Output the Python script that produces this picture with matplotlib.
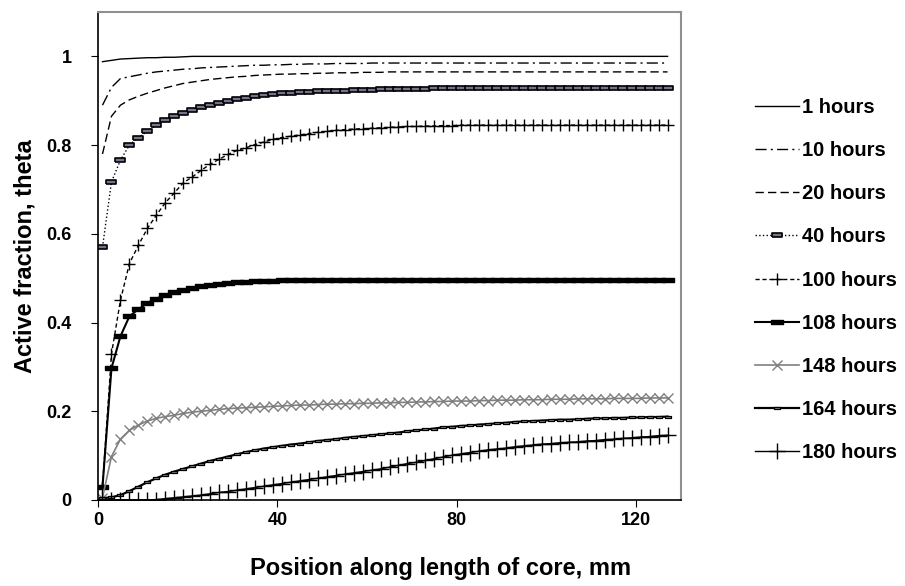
import matplotlib
matplotlib.use("Agg")
from matplotlib import pyplot as plt
from matplotlib.path import Path

plt.rcParams['font.family'] = ['Liberation Sans', 'DejaVu Sans']
plt.rcParams['font.weight'] = 'bold'

# position along core (mm)
pos = list(range(1, 128, 2))

h1 = [0.988, 0.991, 0.994, 0.995, 0.996, 0.997, 0.997, 0.998,
      0.998, 0.999] + [1.0] * 54
h10 = [0.890, 0.930, 0.950, 0.954, 0.958, 0.962, 0.965, 0.967,
       0.969, 0.971, 0.972, 0.974, 0.975, 0.976, 0.977, 0.978,
       0.979, 0.980, 0.980, 0.981, 0.981, 0.982, 0.982, 0.983,
       0.983, 0.983, 0.984, 0.984, 0.984, 0.984, 0.985, 0.985] + [0.985] * 32
h20 = [0.780, 0.865, 0.890, 0.902, 0.910, 0.917, 0.923, 0.929,
       0.934, 0.939, 0.942, 0.945, 0.948, 0.950, 0.952, 0.954,
       0.955, 0.957, 0.958, 0.959, 0.960, 0.960, 0.961, 0.961,
       0.962, 0.962, 0.963, 0.963, 0.963, 0.964, 0.964, 0.964] + [0.965] * 32
h40 = [0.570, 0.717, 0.766, 0.800, 0.817, 0.831, 0.845, 0.856,
       0.865, 0.872, 0.880, 0.886, 0.891, 0.896, 0.900, 0.904,
       0.907, 0.910, 0.913, 0.915, 0.917, 0.918, 0.919, 0.920,
       0.921, 0.922, 0.923, 0.923, 0.924, 0.925, 0.925, 0.926,
       0.926, 0.926, 0.927, 0.927, 0.927] + [0.928] * 27
h100 = [0.030, 0.329, 0.450, 0.533, 0.574, 0.612, 0.642, 0.670,
        0.692, 0.715, 0.728, 0.743, 0.757, 0.768, 0.779, 0.788,
        0.794, 0.801, 0.807, 0.813, 0.817, 0.820, 0.823, 0.826,
        0.829, 0.831, 0.833, 0.835, 0.836, 0.837, 0.838, 0.839,
        0.840, 0.841, 0.842, 0.842, 0.843, 0.843, 0.844, 0.844] + [0.845] * 24
h108 = [0.030, 0.297, 0.369, 0.414, 0.430, 0.444, 0.454, 0.462,
        0.469, 0.474, 0.478, 0.482, 0.485, 0.487, 0.489, 0.491,
        0.492, 0.493, 0.494, 0.494] + [0.495] * 44
h148 = [0.005, 0.098, 0.137, 0.157, 0.169, 0.178, 0.184, 0.188,
        0.191, 0.195, 0.198, 0.200, 0.202, 0.204, 0.206, 0.207,
        0.208, 0.209, 0.210, 0.211, 0.212, 0.213, 0.214, 0.214,
        0.215, 0.216, 0.216, 0.217, 0.217, 0.218, 0.218, 0.219,
        0.219, 0.220, 0.220, 0.221, 0.221, 0.222, 0.222, 0.223,
        0.223, 0.223, 0.224, 0.224, 0.225, 0.225, 0.225, 0.226,
        0.226, 0.226, 0.227, 0.227, 0.227, 0.228, 0.228, 0.228,
        0.228, 0.229, 0.229, 0.229, 0.229, 0.230, 0.230, 0.230]
h164 = [0.004, 0.006, 0.011, 0.020, 0.030, 0.040, 0.049, 0.057,
        0.064, 0.070, 0.076, 0.082, 0.088, 0.093, 0.098, 0.103,
        0.108, 0.112, 0.116, 0.119, 0.122, 0.125, 0.127, 0.130,
        0.133, 0.135, 0.137, 0.140, 0.142, 0.144, 0.146, 0.148,
        0.150, 0.152, 0.155, 0.157, 0.159, 0.161, 0.164, 0.165,
        0.167, 0.168, 0.170, 0.171, 0.173, 0.174, 0.176, 0.177,
        0.178, 0.179, 0.180, 0.181, 0.181, 0.182, 0.183, 0.184,
        0.184, 0.185, 0.185, 0.186, 0.186, 0.187, 0.187, 0.188]
h180 = [0.000, 0.000, 0.000, 0.000, 0.000, 0.000, 0.001, 0.003,
        0.005, 0.007, 0.009, 0.011, 0.014, 0.017, 0.019, 0.022,
        0.025, 0.028, 0.031, 0.034, 0.037, 0.040, 0.043, 0.046,
        0.049, 0.052, 0.055, 0.058, 0.061, 0.064, 0.067, 0.070,
        0.074, 0.078, 0.082, 0.085, 0.089, 0.093, 0.097, 0.101,
        0.104, 0.107, 0.110, 0.113, 0.115, 0.117, 0.120, 0.122,
        0.124, 0.126, 0.127, 0.129, 0.130, 0.131, 0.133, 0.134,
        0.136, 0.137, 0.139, 0.140, 0.142, 0.143, 0.145, 0.146]

# flat rectangle marker
bar = Path([(-1, -0.4), (1, -0.4), (1, 0.4), (-1, 0.4), (-1, -0.4)])

fig = plt.figure(figsize=(9.05, 5.86), dpi=100)
ax = fig.add_axes([0.1083, 0.1468, 0.6442, 0.8327])

ax.plot(pos, h1, c='black', lw=1, label='1 hours')
ax.plot(pos, h10, c='black', lw=1, dashes=(8, 3, 1.5, 3), label='10 hours')
ax.plot(pos, h20, c='black', lw=1, dashes=(6, 3), label='20 hours')
ax.plot(pos, h40, c='black', lw=1, ls=':', marker=bar, ms=6.5,
        mfc='#77738f', mec='black', mew=1.2, label='40 hours')
ax.plot(pos, h100, c='black', lw=1, dashes=(3, 2), marker='+', ms=9,
        mew=1, label='100 hours')
ax.plot(pos, h108, c='black', lw=1.5, marker=bar, ms=8,
        mfc='black', mec='black', label='108 hours')
ax.plot(pos, h148, c='gray', lw=1.2, marker='x', ms=7, mew=1,
        mec='gray', label='148 hours')
ax.plot(pos, h164, c='black', lw=1.6, marker=bar, ms=4,
        mfc='#8a8a8a', mec='black', mew=0.9, label='164 hours')
ax.plot(pos, h180, c='black', lw=1, marker='+', ms=11, mew=1,
        label='180 hours')

ax.set_xlim(0, 130)
ax.set_ylim(0, 1.1)
ax.set_xticks([0, 40, 80, 120])
ax.set_yticks([0, 0.2, 0.4, 0.6, 0.8, 1])
ax.set_yticklabels(['0', '0.2', '0.4', '0.6', '0.8', '1'])
ax.tick_params(axis='both', direction='out', length=5, labelsize=13)
ax.tick_params(axis='y', pad=14)
for s in ['top', 'right']:
    ax.spines[s].set_color('#909090')
    ax.spines[s].set_linewidth(1.5)
for s in ['left', 'bottom']:
    ax.spines[s].set_linewidth(1.2)

ax.set_xlabel('Position along length of core, mm', fontsize=17,
              fontweight='bold', labelpad=20)
ax.set_ylabel('Active fraction, theta', fontsize=17, fontweight='bold',
              labelpad=7)
# Excel-style title sits right of the plot centre
ax.xaxis.label.set_x(0.588)

fig.legend(loc='center left', bbox_to_anchor=(0.823, 0.522), frameon=False,
           fontsize=14.5, labelspacing=1.2, handlelength=2.2,
           handletextpad=0.15, borderpad=0)

fig.savefig('out.png')
